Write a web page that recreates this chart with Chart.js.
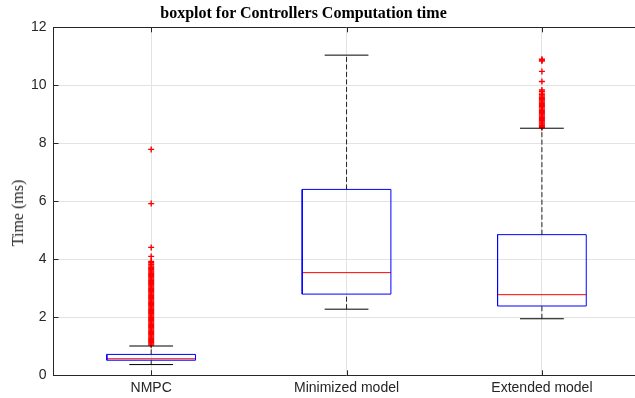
<!DOCTYPE html>
<html>
<head>
<meta charset="utf-8">
<script src="https://cdn.jsdelivr.net/npm/chart.js@4/dist/chart.umd.min.js"></script>
<style>
    body { margin: 0; overflow: hidden; background: #fff; }
    #wrap { position: relative; width: 645px; height: 398px; }
    #plotTitle {
        position: absolute; left: 0; width: 607px; top: 4px;
        text-align: center; font: bold 16px "Liberation Serif", serif; color: #000;
    }
    #yTitle {
        position: absolute; left: 18px; top: 213px;
        transform: translate(-50%, -50%) rotate(-90deg);
        font: 16px "Liberation Serif", serif; color: #262626; white-space: nowrap;
    }
</style>
</head>
<body>
<div id="wrap">
    <canvas id="boxChart" width="645" height="398"></canvas>
    <div id="plotTitle">boxplot for Controllers Computation time</div>
    <div id="yTitle">Time (ms)</div>
</div>
<script>
    // Box statistics per controller (ms)
    const categories = ["NMPC", "Minimized model", "Extended model"];
    const whiskerLow = [0.37, 2.28, 1.95];
    const q1 = [0.52, 2.80, 2.39];
    const medians = [0.57, 3.54, 2.78];
    const q3 = [0.72, 6.41, 4.85];
    const whiskerHigh = [1.01, 11.04, 8.52];

    // Outlier samples
    const outliersNMPC = [
        1.04, 1.08, 1.12, 1.16, 1.20, 1.24, 1.28, 1.32, 1.36, 1.40, 1.44, 1.48, 1.52,
        1.56, 1.60, 1.64, 1.68, 1.72, 1.76, 1.80, 1.84, 1.88, 1.92, 1.96, 2.00, 2.04,
        2.08, 2.12, 2.16, 2.20, 2.24, 2.28, 2.32, 2.36, 2.40, 2.44, 2.48, 2.52, 2.56,
        2.60, 2.64, 2.68, 2.72, 2.76, 2.80, 2.84, 2.88, 2.92, 2.96, 3.00, 3.04, 3.08,
        3.12, 3.16, 3.20, 3.24, 3.28, 3.32, 3.36, 3.40, 3.44, 3.48, 3.52, 3.56, 3.60,
        3.64, 3.68, 3.72, 3.77, 3.83, 3.88, 3.93, 4.10, 4.41, 5.92, 7.79
    ];
    const outliersMinimized = [];
    const outliersExtended = [
        8.54, 8.58, 8.62, 8.66, 8.70, 8.74, 8.78, 8.82, 8.86, 8.90, 8.94, 8.98, 9.02,
        9.06, 9.10, 9.14, 9.18, 9.22, 9.26, 9.30, 9.34, 9.38, 9.42, 9.46, 9.50, 9.54,
        9.58, 9.63, 9.68, 9.73, 9.79, 9.84, 10.13, 10.48, 10.84, 10.87, 10.90
    ];
    const outlierGroups = [outliersNMPC, outliersMinimized, outliersExtended];

    const yTicks = [0, 2, 4, 6, 8, 10, 12];

    const BOX_HALF = 0.227;
    const CAP_HALF = 0.112;
    const AXIS_COLOR = "#262626";

    const lineSet = (points, color, extra = {}) => Object.assign({
        data: points,
        showLine: true,
        borderColor: color,
        borderWidth: 1,
        pointRadius: 0,
        fill: false
    }, extra);

    const datasets = [];
    categories.forEach((name, i) => {
        const x = i + 1;
        // whiskers
        datasets.push(lineSet([{ x: x, y: q3[i] }, { x: x, y: whiskerHigh[i] }], "#222", { borderDash: [5, 2.5] }));
        datasets.push(lineSet([{ x: x, y: whiskerLow[i] }, { x: x, y: q1[i] }], "#222", { borderDash: [5, 2.5] }));
        datasets.push(lineSet([{ x: x - CAP_HALF, y: whiskerHigh[i] }, { x: x + CAP_HALF, y: whiskerHigh[i] }], "#000"));
        datasets.push(lineSet([{ x: x - CAP_HALF, y: whiskerLow[i] }, { x: x + CAP_HALF, y: whiskerLow[i] }], "#000"));
        // box
        datasets.push(lineSet([
            { x: x - BOX_HALF, y: q1[i] },
            { x: x + BOX_HALF, y: q1[i] },
            { x: x + BOX_HALF, y: q3[i] },
            { x: x - BOX_HALF, y: q3[i] },
            { x: x - BOX_HALF, y: q1[i] }
        ], "#0000ff"));
        // median
        datasets.push(lineSet([{ x: x - BOX_HALF, y: medians[i] }, { x: x + BOX_HALF, y: medians[i] }], "#ff0000"));
        // outliers
        datasets.push({
            data: outlierGroups[i].map(v => ({ x: x, y: v })),
            showLine: false,
            pointStyle: "cross",
            pointRadius: 3,
            borderColor: "#ff0000",
            backgroundColor: "#ff0000",
            borderWidth: 1.4
        });
    });

    // Inward tick marks and the top frame line
    const frameTicks = {
        id: "frameTicks",
        afterDraw(chart) {
            const { ctx, chartArea: a, scales: { x, y } } = chart;
            ctx.save();
            ctx.strokeStyle = AXIS_COLOR;
            ctx.lineWidth = 1;
            ctx.beginPath();
            ctx.moveTo(a.left, Math.round(a.top) + 0.5);
            ctx.lineTo(a.right, Math.round(a.top) + 0.5);
            yTicks.forEach(v => {
                const py = Math.round(y.getPixelForValue(v)) + 0.5;
                ctx.moveTo(a.left, py);
                ctx.lineTo(a.left + 5, py);
            });
            categories.forEach((_, i) => {
                const px = Math.round(x.getPixelForValue(i + 1)) + 0.5;
                ctx.moveTo(px, a.bottom);
                ctx.lineTo(px, a.bottom - 5);
                ctx.moveTo(px, a.top);
                ctx.lineTo(px, a.top + 5);
            });
            ctx.stroke();
            ctx.restore();
        }
    };

    new Chart(document.getElementById("boxChart"), {
        type: "scatter",
        data: { datasets },
        options: {
            responsive: false,
            animation: false,
            layout: { padding: { top: 27.3, left: 0, right: 3.5, bottom: 0 } },
            plugins: {
                legend: { display: false },
                tooltip: { enabled: false },
                title: { display: false }
            },
            scales: {
                x: {
                    type: "linear",
                    min: 0.5,
                    max: 3.5,
                    afterBuildTicks: scale => { scale.ticks = categories.map((_, i) => ({ value: i + 1 })); },
                    afterFit: scale => { scale.height = 22.7; },
                    ticks: {
                        callback: v => categories[v - 1],
                        color: AXIS_COLOR,
                        font: { family: "Liberation Sans", size: 14 },
                        padding: 4,
                        maxRotation: 0,
                        autoSkip: false
                    },
                    grid: { color: "#e3e3e3", drawTicks: false },
                    border: { color: AXIS_COLOR, width: 1 }
                },
                y: {
                    min: 0,
                    max: 12,
                    afterBuildTicks: scale => { scale.ticks = yTicks.map(v => ({ value: v })); },
                    afterFit: scale => { scale.width = 53.5; },
                    ticks: {
                        color: AXIS_COLOR,
                        font: { family: "Liberation Sans", size: 14 },
                        padding: 7
                    },
                    grid: { color: "#e3e3e3", drawTicks: false },
                    border: { color: AXIS_COLOR, width: 1 }
                }
            }
        },
        plugins: [frameTicks]
    });
</script>
</body>
</html>
